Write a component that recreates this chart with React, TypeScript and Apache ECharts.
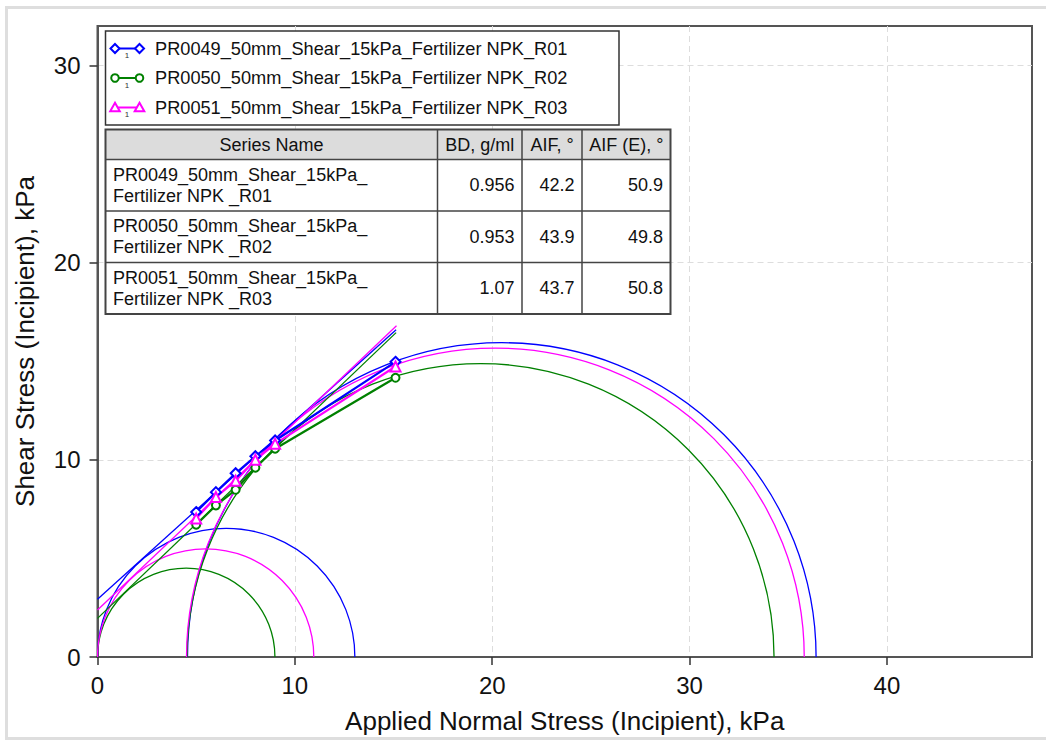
import React, { useEffect, useRef } from "react";
import * as echarts from "echarts";

// ---------- data ----------
const SERIES_NAMES = [
  "PR0049_50mm_Shear_15kPa_Fertilizer NPK_R01",
  "PR0050_50mm_Shear_15kPa_Fertilizer NPK_R02",
  "PR0051_50mm_Shear_15kPa_Fertilizer NPK_R03",
];
const TABLE_NAME_LINE1 = [
  "PR0049_50mm_Shear_15kPa_",
  "PR0050_50mm_Shear_15kPa_",
  "PR0051_50mm_Shear_15kPa_",
];
const TABLE_NAME_LINE2 = ["Fertilizer NPK _R01", "Fertilizer NPK _R02", "Fertilizer NPK _R03"];
const TABLE_HEADERS = ["Series Name", "BD, g/ml", "AIF, °", "AIF (E), °"];
const BD = ["0.956", "0.953", "1.07"];
const AIF = ["42.2", "43.9", "43.7"];
const AIF_E = ["50.9", "49.8", "50.8"];

const NORMAL_STRESS = [5, 6, 7, 8, 9, 15.1];
const SHEAR_R01 = [7.35, 8.36, 9.32, 10.18, 10.98, 14.97];
const SHEAR_R02 = [6.71, 7.69, 8.48, 9.6, 10.56, 14.16];
const SHEAR_R03 = [7.02, 8.11, 8.94, 10.0, 10.81, 14.73];

// yield loci (start / end points)
const ENVELOPE_R01 = [[0, 2.93], [15.13, 16.6]];
const ENVELOPE_R02 = [[0, 1.96], [15.13, 16.45]];
const ENVELOPE_R03 = [[0, 2.38], [15.15, 16.8]];

// Mohr circles: [left x-intercept, right x-intercept]
const SMALL_CIRCLE_R01 = [0, 13.04];
const SMALL_CIRCLE_R02 = [0, 8.99];
const SMALL_CIRCLE_R03 = [0, 10.96];
const BIG_CIRCLE_R01 = [4.56, 36.41];
const BIG_CIRCLE_R02 = [4.54, 34.28];
const BIG_CIRCLE_R03 = [4.51, 35.81];

const X_TICKS = [0, 10, 20, 30, 40];
const Y_TICKS = [0, 10, 20, 30];

// ---------- styles ----------
const COLORS = ["#0000ff", "#008000", "#ff00ff"];
const SYMBOLS = ["diamond", "circle", "triangle"];
const FONT = "'Liberation Sans', Arial, sans-serif";

const SHEAR = [SHEAR_R01, SHEAR_R02, SHEAR_R03];
const ENVELOPES = [ENVELOPE_R01, ENVELOPE_R02, ENVELOPE_R03];
const SMALL = [SMALL_CIRCLE_R01, SMALL_CIRCLE_R02, SMALL_CIRCLE_R03];
const BIG = [BIG_CIRCLE_R01, BIG_CIRCLE_R02, BIG_CIRCLE_R03];

function markerShape(kind: string, x: number, y: number, color: string) {
  const style = { fill: "#fff", stroke: color, lineWidth: 2 };
  if (kind === "circle") return { type: "circle", shape: { cx: x, cy: y, r: 3.8 }, style, z: 101 };
  if (kind === "diamond")
    return {
      type: "polygon",
      shape: { points: [[x, y - 4.5], [x + 4.5, y], [x, y + 4.5], [x - 4.5, y]] },
      style,
      z: 101,
    };
  return {
    type: "polygon",
    shape: { points: [[x, y - 4.7], [x + 4.8, y + 3.8], [x - 4.8, y + 3.8]] },
    style,
    z: 101,
  };
}

function buildGraphics() {
  const g: any[] = [];
  // outer frame
  g.push({
    type: "rect",
    shape: { x: 6.5, y: 7.5, width: 1100, height: 731 },
    style: { fill: "none", stroke: "#dedede", lineWidth: 3 },
    z: 0,
    silent: true,
  });
  // legend box
  g.push({
    type: "rect",
    shape: { x: 105.5, y: 31, width: 513.5, height: 94 },
    style: { fill: "#fff", stroke: "#333", lineWidth: 1.5 },
    z: 100,
  });
  const rowsY = [48.5, 78, 107.5];
  for (let i = 0; i < 3; i++) {
    const y = rowsY[i];
    g.push({
      type: "line",
      shape: { x1: 115, y1: y, x2: 139.5, y2: y },
      style: { stroke: COLORS[i], lineWidth: 2 },
      z: 101,
    });
    g.push(markerShape(SYMBOLS[i], 115, y, COLORS[i]));
    g.push(markerShape(SYMBOLS[i], 139.5, y, COLORS[i]));
    g.push({
      type: "text",
      style: { x: 127, y: y + 7, text: "1", fontSize: 8, fill: "#333", align: "center", verticalAlign: "middle", fontFamily: FONT },
      z: 101,
    });
    g.push({
      type: "text",
      style: { x: 155, y: y, text: SERIES_NAMES[i], fontSize: 18.2, fill: "#111", verticalAlign: "middle", fontFamily: FONT },
      z: 101,
    });
  }
  // table
  const cx = [105.5, 437.5, 522, 582, 670.5];
  const ry = [129.5, 159.5, 211, 262.5, 314];
  g.push({
    type: "rect",
    shape: { x: cx[0], y: ry[0], width: cx[4] - cx[0], height: ry[4] - ry[0] },
    style: { fill: "#fff", stroke: "none" },
    z: 100,
  });
  g.push({
    type: "rect",
    shape: { x: cx[0], y: ry[0], width: cx[4] - cx[0], height: ry[1] - ry[0] },
    style: { fill: "#dcdcdc", stroke: "none" },
    z: 100,
  });
  for (let k = 1; k < 4; k++) {
    g.push({
      type: "line",
      shape: { x1: cx[k], y1: ry[0], x2: cx[k], y2: ry[4] },
      style: { stroke: "#444", lineWidth: 1.5 },
      z: 102,
    });
  }
  for (let k = 1; k < 4; k++) {
    g.push({
      type: "line",
      shape: { x1: cx[0], y1: ry[k], x2: cx[4], y2: ry[k] },
      style: { stroke: "#444", lineWidth: 1.5 },
      z: 102,
    });
  }
  g.push({
    type: "rect",
    shape: { x: cx[0], y: ry[0], width: cx[4] - cx[0], height: ry[4] - ry[0] },
    style: { fill: "none", stroke: "#444", lineWidth: 2 },
    z: 103,
  });
  for (let k = 0; k < 4; k++) {
    g.push({
      type: "text",
      style: {
        x: (cx[k] + cx[k + 1]) / 2,
        y: (ry[0] + ry[1]) / 2,
        text: TABLE_HEADERS[k],
        fontSize: 18,
        fill: "#111",
        align: "center",
        verticalAlign: "middle",
        fontFamily: FONT,
      },
      z: 104,
    });
  }
  for (let i = 0; i < 3; i++) {
    const top = ry[i + 1];
    const bot = ry[i + 2];
    const mid = (top + bot) / 2;
    g.push({
      type: "text",
      style: { x: 113, y: mid - 10.5, text: TABLE_NAME_LINE1[i], fontSize: 18, fill: "#111", verticalAlign: "middle", fontFamily: FONT },
      z: 104,
    });
    g.push({
      type: "text",
      style: { x: 113, y: mid + 10.5, text: TABLE_NAME_LINE2[i], fontSize: 18, fill: "#111", verticalAlign: "middle", fontFamily: FONT },
      z: 104,
    });
    const vals = [BD[i], AIF[i], AIF_E[i]];
    for (let k = 0; k < 3; k++) {
      g.push({
        type: "text",
        style: { x: cx[k + 2] - 7.5, y: mid, text: vals[k], fontSize: 18, fill: "#111", align: "right", verticalAlign: "middle", fontFamily: FONT },
        z: 104,
      });
    }
  }
  return g;
}

function circleSeries(data: number[][], color: string, name: string) {
  return {
    type: "custom",
    name,
    silent: true,
    clip: true,
    data: data.map((d) => [d[0], d[1], 0]),
    encode: { x: [0, 1], y: 2 },
    renderItem: (params: any, api: any) => {
      const x1 = api.value(0);
      const x2 = api.value(1);
      const c = api.coord([(x1 + x2) / 2, 0]);
      const r = api.size([(x2 - x1) / 2, 0])[0];
      return {
        type: "arc",
        shape: { cx: c[0], cy: c[1], r, startAngle: Math.PI, endAngle: 2 * Math.PI, clockwise: true },
        style: { stroke: color, fill: "none", lineWidth: 1.3 },
      };
    },
    z: 2,
  };
}

export default function App() {
  const ref = useRef<HTMLDivElement>(null);
  useEffect(() => {
    if (!ref.current) return;
    const chart = echarts.init(ref.current, undefined, { renderer: "svg" });
    const series: any[] = [];
    for (let i = 0; i < 3; i++) {
      series.push(circleSeries([SMALL[i], BIG[i]], COLORS[i], "circles" + i));
    }
    for (let i = 0; i < 3; i++) {
      series.push({
        type: "line",
        name: "envelope" + i,
        data: ENVELOPES[i],
        showSymbol: false,
        symbol: "none",
        lineStyle: { color: COLORS[i], width: 1.3 },
        silent: true,
        z: 3,
      });
    }
    for (let i = 0; i < 3; i++) {
      series.push({
        type: "line",
        name: SERIES_NAMES[i],
        data: NORMAL_STRESS.map((x, j) => [x, SHEAR[i][j]]),
        symbol: SYMBOLS[i],
        showSymbol: true,
        symbolSize: SYMBOLS[i] === "circle" ? 8 : 10,
        itemStyle: { color: "#ffffff", borderColor: COLORS[i], borderWidth: 2 },
        lineStyle: { color: COLORS[i], width: 2.2 },
        z: 4,
      });
    }
    chart.setOption({
      animation: false,
      backgroundColor: "#fff",
      textStyle: { fontFamily: FONT },
      grid: {
        left: 97.5,
        right: 14,
        top: 26,
        bottom: 83,
        show: true,
        borderColor: "#555",
        borderWidth: 2,
        backgroundColor: "transparent",
      },
      xAxis: {
        type: "value",
        min: 0,
        max: 47.35,
        interval: 10,
        name: "Applied Normal Stress (Incipient), kPa",
        nameLocation: "middle",
        nameGap: 51,
        nameTextStyle: { fontSize: 26, color: "#111", fontFamily: FONT },
        axisLine: { show: true, onZero: false, lineStyle: { color: "#555", width: 2 } },
        axisTick: { show: true, length: 8, lineStyle: { color: "#333", width: 1.5 }, customValues: X_TICKS },
        axisLabel: { fontSize: 24, color: "#111", margin: 16, customValues: X_TICKS },
        splitLine: { show: true, lineStyle: { color: "#dddddd", type: [6, 4], width: 1 } },
      },
      yAxis: {
        type: "value",
        min: 0,
        max: 32,
        interval: 10,
        name: "Shear Stress (Incipient), kPa",
        nameLocation: "middle",
        nameGap: 60,
        nameTextStyle: { fontSize: 26, color: "#111", fontFamily: FONT },
        axisLine: { show: true, onZero: false, lineStyle: { color: "#555", width: 2 } },
        axisTick: { show: true, length: 8, lineStyle: { color: "#333", width: 1.5 }, customValues: Y_TICKS },
        axisLabel: { fontSize: 24, color: "#111", margin: 17, customValues: Y_TICKS },
        splitLine: { show: true, lineStyle: { color: "#dddddd", type: [6, 4], width: 1 } },
      },
      series,
      graphic: buildGraphics(),
    });
    return () => chart.dispose();
  }, []);
  return (
    <div
      ref={ref}
      style={{ position: "fixed", left: 0, top: 0, width: 1046, height: 740, background: "#fff" }}
    />
  );
}
